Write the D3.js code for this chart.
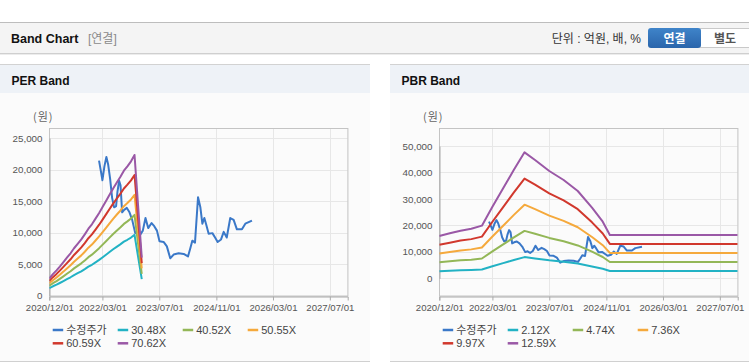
<!DOCTYPE html>
<html><head><meta charset="utf-8">
<script src="https://cdn.jsdelivr.net/npm/d3@7"></script>
<style>
body{margin:0;background:#fff;}
svg{display:block;font-family:"Liberation Sans","Noto Sans CJK KR",sans-serif;}
</style>
</head><body>
<svg id="c" width="749" height="364"></svg>
<script>
// ---------- DATA ----------
const xTickLabels = ["2020/12/01","2022/03/01","2023/07/01","2024/11/01","2026/03/01","2027/07/01"];
const perYTicks = [0,5000,10000,15000,20000,25000];
const pbrYTicks = [0,10000,20000,30000,40000,50000];

const priceDates = ["2022-01-31","2022-02-18","2022-03-01","2022-03-18","2022-04-04","2022-04-19","2022-05-06","2022-05-23","2022-06-09","2022-06-26","2022-07-08","2022-07-22","2022-08-03","2022-08-17","2022-09-03","2022-09-26","2022-10-19","2022-11-11","2022-12-07","2022-12-27","2023-01-18","2023-02-10","2023-03-05","2023-03-28","2023-04-26","2023-05-19","2023-06-11","2023-07-03","2023-08-07","2023-09-04","2023-10-03","2023-11-01","2023-12-14","2024-01-26","2024-03-03","2024-03-23","2024-04-09","2024-05-02","2024-05-28","2024-06-17","2024-07-04","2024-07-21","2024-08-07","2024-08-27","2024-09-28","2024-10-21","2024-11-12","2024-12-11","2025-01-03","2025-01-29","2025-02-28","2025-03-29","2025-04-26","2025-06-08","2025-07-07","2025-09-02"];
const priceValues = [21400,19500,18300,20500,22000,20800,18500,15500,14000,14200,16500,18200,17500,13200,13600,13900,13200,12000,9900,10200,9600,10300,12300,10700,11500,11000,10300,8600,8500,7800,5900,6500,6700,6600,6200,7500,8700,8400,15600,14000,11400,12300,11200,9800,9900,9200,8500,8900,10100,9200,12300,12000,10500,10500,11400,11900];

const perBandDates = ["2020-12-01","2021-01-01","2021-02-01","2021-03-01","2021-04-01","2021-05-01","2021-06-01","2021-07-01","2021-08-01","2021-09-01","2021-10-01","2021-11-01","2021-12-01","2022-01-01","2022-02-01","2022-03-01","2022-04-01","2022-05-01","2022-06-01","2022-07-01","2022-08-01","2022-09-01","2022-10-01","2022-11-01","2022-12-01","2023-02-01"];
const per30 = [1164,1466,1725,1984,2286,2591,2893,3237,3539,3840,4188,4575,4877,5267,5654,6041,6474,6907,7337,7727,8114,8547,8848,9193,9626,2591];
const per40 = [1548,1949,2293,2638,3039,3444,3845,4303,4704,5106,5567,6082,6483,7002,7516,8031,8606,9182,9753,10272,10786,11362,11763,12221,12796,3444];
const per50 = [1931,2432,2861,3291,3791,4297,4797,5368,5869,6369,6946,7588,8088,8735,9377,10019,10737,11455,12167,12814,13456,14174,14675,15246,15964,4297];
const per60 = [2315,2914,3429,3944,4544,5150,5750,6435,7034,7634,8325,9095,9694,10470,11239,12009,12869,13730,14584,15360,16129,16989,17589,18274,19134,5150];
const per70 = [2698,3397,3997,4597,5297,6003,6702,7500,8199,8898,9703,10600,11299,12203,13100,13997,15000,16003,16998,17902,18799,19802,20501,21299,22302,6003];
const perNames = ["수정주가","30.48X","40.52X","50.55X","60.59X","70.62X"];

const pbrBandDates = ["2020-12-01","2021-03-01","2021-06-01","2021-09-01","2021-12-01","2022-03-01","2022-06-01","2022-09-01","2022-12-01","2023-03-01","2023-07-01","2023-11-01","2024-03-01","2024-07-01","2024-10-01","2024-12-01","2027-12-01"];
const pbr2  = [2694,2863,3031,3149,3351,4547,5725,6904,8015,7527,6828,6256,5557,4496,3604,2762,2762];
const pbr4  = [6024,6400,6777,7040,7492,10165,12801,15436,17921,16829,15267,13987,12424,10052,8057,6174,6174];
const pbr7  = [9353,9938,10523,10932,11633,15784,19876,23969,27827,26131,23705,21718,19291,15608,12511,9587,9587];
const pbr9  = [12670,13463,14254,14808,15759,21382,26925,32468,37695,35398,32111,29420,26132,21143,16947,12987,12987];
const pbr12 = [16000,17000,18000,18700,19900,27000,34000,41000,47600,44700,40550,37150,33000,26700,21400,16400,16400];
const pbrNames = ["수정주가","2.12X","4.74X","7.36X","9.97X","12.59X"];

const seriesColors = ["#3a78c8","#22b2c4","#93b757","#f5a93c","#d1382d","#9a58a6"];

// ---------- DRAW ----------
const svg = d3.select("#c");
const pd = d3.timeParse("%Y-%m-%d");
const pt = d3.timeParse("%Y/%m/%d");

// top header bar
svg.append("rect").attr("x",0).attr("y",22).attr("width",749).attr("height",31).attr("fill","#f4f4f4");
svg.append("line").attr("x1",0).attr("x2",749).attr("y1",22.5).attr("y2",22.5).attr("stroke","#bdbdbd");
svg.append("line").attr("x1",0).attr("x2",749).attr("y1",53.5).attr("y2",53.5).attr("stroke","#cfcfcf");
svg.append("line").attr("x1",0).attr("x2",749).attr("y1",54.5).attr("y2",54.5).attr("stroke","#ececec");
svg.append("text").attr("x",11).attr("y",43).attr("font-size",12.5).attr("font-weight","bold").attr("fill","#111").text("Band Chart");
svg.append("text").attr("x",88).attr("y",43).attr("font-size",12).attr("fill","#8a8a8a").text("[연결]");
svg.append("text").attr("x",641).attr("y",43).attr("text-anchor","end").attr("font-size",12).attr("fill","#333").text("단위 : 억원, 배, %");
const grad = svg.append("defs").append("linearGradient").attr("id","btn").attr("x1",0).attr("x2",0).attr("y1",0).attr("y2",1);
grad.append("stop").attr("offset","0%").attr("stop-color","#3f84c9");
grad.append("stop").attr("offset","100%").attr("stop-color","#2a65ab");
svg.append("rect").attr("x",700).attr("y",28.5).attr("width",60).attr("height",19).attr("fill","#fff").attr("stroke","#c9c9c9");
svg.append("rect").attr("x",648).attr("y",28).attr("width",53).attr("height",20).attr("rx",3).attr("fill","url(#btn)");
svg.append("text").attr("x",674.5).attr("y",42.5).attr("text-anchor","middle").attr("font-size",12).attr("font-weight","bold").attr("fill","#fff").text("연결");
svg.append("text").attr("x",725).attr("y",42.5).attr("text-anchor","middle").attr("font-size",12).attr("font-weight","bold").attr("fill","#555").text("별도");

function drawPanel(px, pw, title, yDomain, yRange, yTicks, bandDates, bands, names) {
  const g = svg.append("g");
  g.append("rect").attr("x",px).attr("y",64).attr("width",pw).attr("height",297).attr("fill","#fbfbfb");
  g.append("rect").attr("x",px).attr("y",64.5).attr("width",pw).attr("height",28.5).attr("fill","#eef2f7");
  g.append("line").attr("x1",px).attr("x2",px+pw).attr("y1",64.5).attr("y2",64.5).attr("stroke","#d2d2d2");
  g.append("line").attr("x1",px).attr("x2",px+pw).attr("y1",361.5).attr("y2",361.5).attr("stroke","#d0d0d0");
  g.append("text").attr("x",px+11.5).attr("y",84.5).attr("font-size",12).attr("font-weight","bold").attr("fill","#111").text(title);
  g.append("text").attr("x",px+33).attr("y",121).attr("font-size",11).attr("fill","#666")
    .attr("font-family","Noto Sans CJK KR, sans-serif").attr("letter-spacing",1).text("(원)");

  const left = px+49.3, right = px+347.7, top = 128, bottom = 295.5;
  const x = d3.scaleTime().domain([pd("2020-12-01"), pd("2027-12-01")]).range([left,right]);
  const y = d3.scaleLinear().domain(yDomain).range(yRange);
  const tickDates = xTickLabels.map(pt);

  // grid
  g.append("g").selectAll("line").data(yTicks).join("line")
    .attr("x1",left).attr("x2",right).attr("y1",d=>Math.round(y(d))+0.5).attr("y2",d=>Math.round(y(d))+0.5)
    .attr("stroke","#e7e7e7");
  g.append("g").selectAll("line").data(tickDates.slice(1)).join("line")
    .attr("x1",d=>Math.round(x(d))+0.5).attr("x2",d=>Math.round(x(d))+0.5).attr("y1",top).attr("y2",bottom)
    .attr("stroke","#e7e7e7");
  g.append("rect").attr("x",Math.round(left)+0.5).attr("y",top+0.5).attr("width",right-left).attr("height",bottom-top)
    .attr("fill","none").attr("stroke","#c4c4c4");

  // axes
  const xa = g.append("g").attr("transform",`translate(0,${Math.round(bottom)+0.5})`)
    .call(d3.axisBottom(x).tickValues(tickDates).tickFormat(d3.timeFormat("%Y/%m/%d")).tickSize(4).tickPadding(4));
  xa.select(".domain").attr("stroke","#aaa");
  xa.selectAll(".tick line").attr("stroke","#aaa");
  xa.selectAll("text").attr("font-size",9.6).attr("fill","#555").attr("font-family","Liberation Sans, sans-serif");
  const ya = g.append("g").attr("transform",`translate(${Math.round(left)+0.5},0)`)
    .call(d3.axisLeft(y).tickValues(yTicks).tickFormat(d3.format(",")).tickSize(0).tickPadding(7));
  ya.select(".domain").attr("stroke","#aaa");
  ya.selectAll("text").attr("font-size",9.8).attr("fill","#555").attr("font-family","Liberation Sans, sans-serif");

  const cid = "clip"+px;
  svg.append("clipPath").attr("id",cid).append("rect").attr("x",left).attr("y",top).attr("width",right-left).attr("height",bottom-top);
  const plot = g.append("g").attr("clip-path",`url(#${cid})`);
  const line = d3.line().x(d=>x(d[0])).y(d=>y(d[1]));

  const pData = priceDates.map((d,i)=>[pd(d), priceValues[i]]);
  plot.append("path").datum(pData).attr("d",line).attr("fill","none").attr("stroke",seriesColors[0]).attr("stroke-width",2).attr("stroke-linejoin","round");
  bands.forEach((vals,k)=>{
    const data = bandDates.map((d,i)=>[pd(d), vals[i]]);
    plot.append("path").datum(data).attr("d",line).attr("fill","none")
      .attr("stroke",seriesColors[k+1]).attr("stroke-width",2).attr("stroke-linejoin","round");
  });

  // legend
  const lg = g.append("g");
  names.forEach((n,i)=>{
    const col = i%4, row = Math.floor(i/4);
    const lx = px+52.7+col*65, ly = 330+row*13.3;
    lg.append("line").attr("x1",lx).attr("x2",lx+10.5).attr("y1",ly).attr("y2",ly).attr("stroke",seriesColors[i]).attr("stroke-width",2.5);
    lg.append("text").attr("x",lx+13.5).attr("y",ly+4).attr("font-size",11).attr("fill","#444").text(n);
  });
}

drawPanel(0, 370, "PER Band", [0,25000], [295.5,138], perYTicks, perBandDates, [per30,per40,per50,per60,per70], perNames);
drawPanel(390, 359, "PBR Band", [0,50000], [278.3,146], pbrYTicks, pbrBandDates, [pbr2,pbr4,pbr7,pbr9,pbr12], pbrNames);
</script>
</body></html>
